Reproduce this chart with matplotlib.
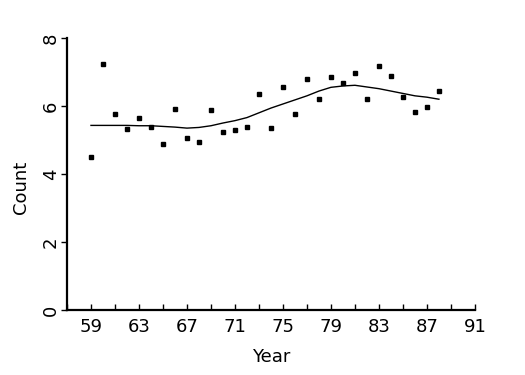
import numpy as np
import matplotlib
matplotlib.use('Agg')
import matplotlib.pyplot as plt
from matplotlib.ticker import MultipleLocator

plt.rcParams['font.family'] = 'DejaVu Sans'
plt.rcParams['font.size'] = 13

# observed counts per year
years = list(range(59, 89))
counts = [4.51, 7.23, 5.78, 5.32, 5.64, 5.39, 4.87, 5.91, 5.06, 4.94,
          5.87, 5.23, 5.29, 5.38, 6.34, 5.34, 6.55, 5.76, 6.79, 6.20,
          6.84, 6.67, 6.98, 6.20, 7.17, 6.87, 6.28, 5.81, 5.96, 6.43]

# smoothed trend
smooth = [5.43, 5.43, 5.43, 5.43, 5.42, 5.42, 5.40, 5.38, 5.35, 5.37,
          5.42, 5.50, 5.57, 5.66, 5.80, 5.94, 6.06, 6.18, 6.30, 6.44,
          6.55, 6.59, 6.61, 6.56, 6.51, 6.44, 6.37, 6.30, 6.26, 6.20]

xticks = [59, 63, 67, 71, 75, 79, 83, 87, 91]
yticks = [0, 2, 4, 6, 8]

fig = plt.figure(figsize=(5.25, 3.75), dpi=100)
ax = fig.add_axes([0.1276, 0.1733, 0.777, 0.7253])

ax.plot(years, smooth, color='black', linewidth=1)
ax.plot(years, counts, linestyle='none', marker='s', markersize=2.3,
        color='black')

ax.set_xlim(57, 91)
ax.set_ylim(0, 8)
ax.set_xticks(xticks)
ax.xaxis.set_minor_locator(MultipleLocator(2, offset=1))
ax.set_yticks(yticks)

for side in ['top', 'right']:
    ax.spines[side].set_visible(False)
for side in ['left', 'bottom']:
    ax.spines[side].set_linewidth(1.6)

ax.tick_params(axis='x', which='both', direction='in', length=4, width=1,
               pad=6, labelsize=13)
ax.tick_params(axis='y', direction='out', length=4, width=1, pad=1,
               labelsize=13, labelrotation=90)
for lbl in ax.get_yticklabels():
    lbl.set_va('center')

ax.set_xlabel('Year', fontsize=13)
ax.set_ylabel('Count', fontsize=13)
ax.xaxis.set_label_coords(0.5, -0.14)
ax.yaxis.set_label_coords(-0.09, 0.45)

fig.savefig('out.png', dpi=100)
